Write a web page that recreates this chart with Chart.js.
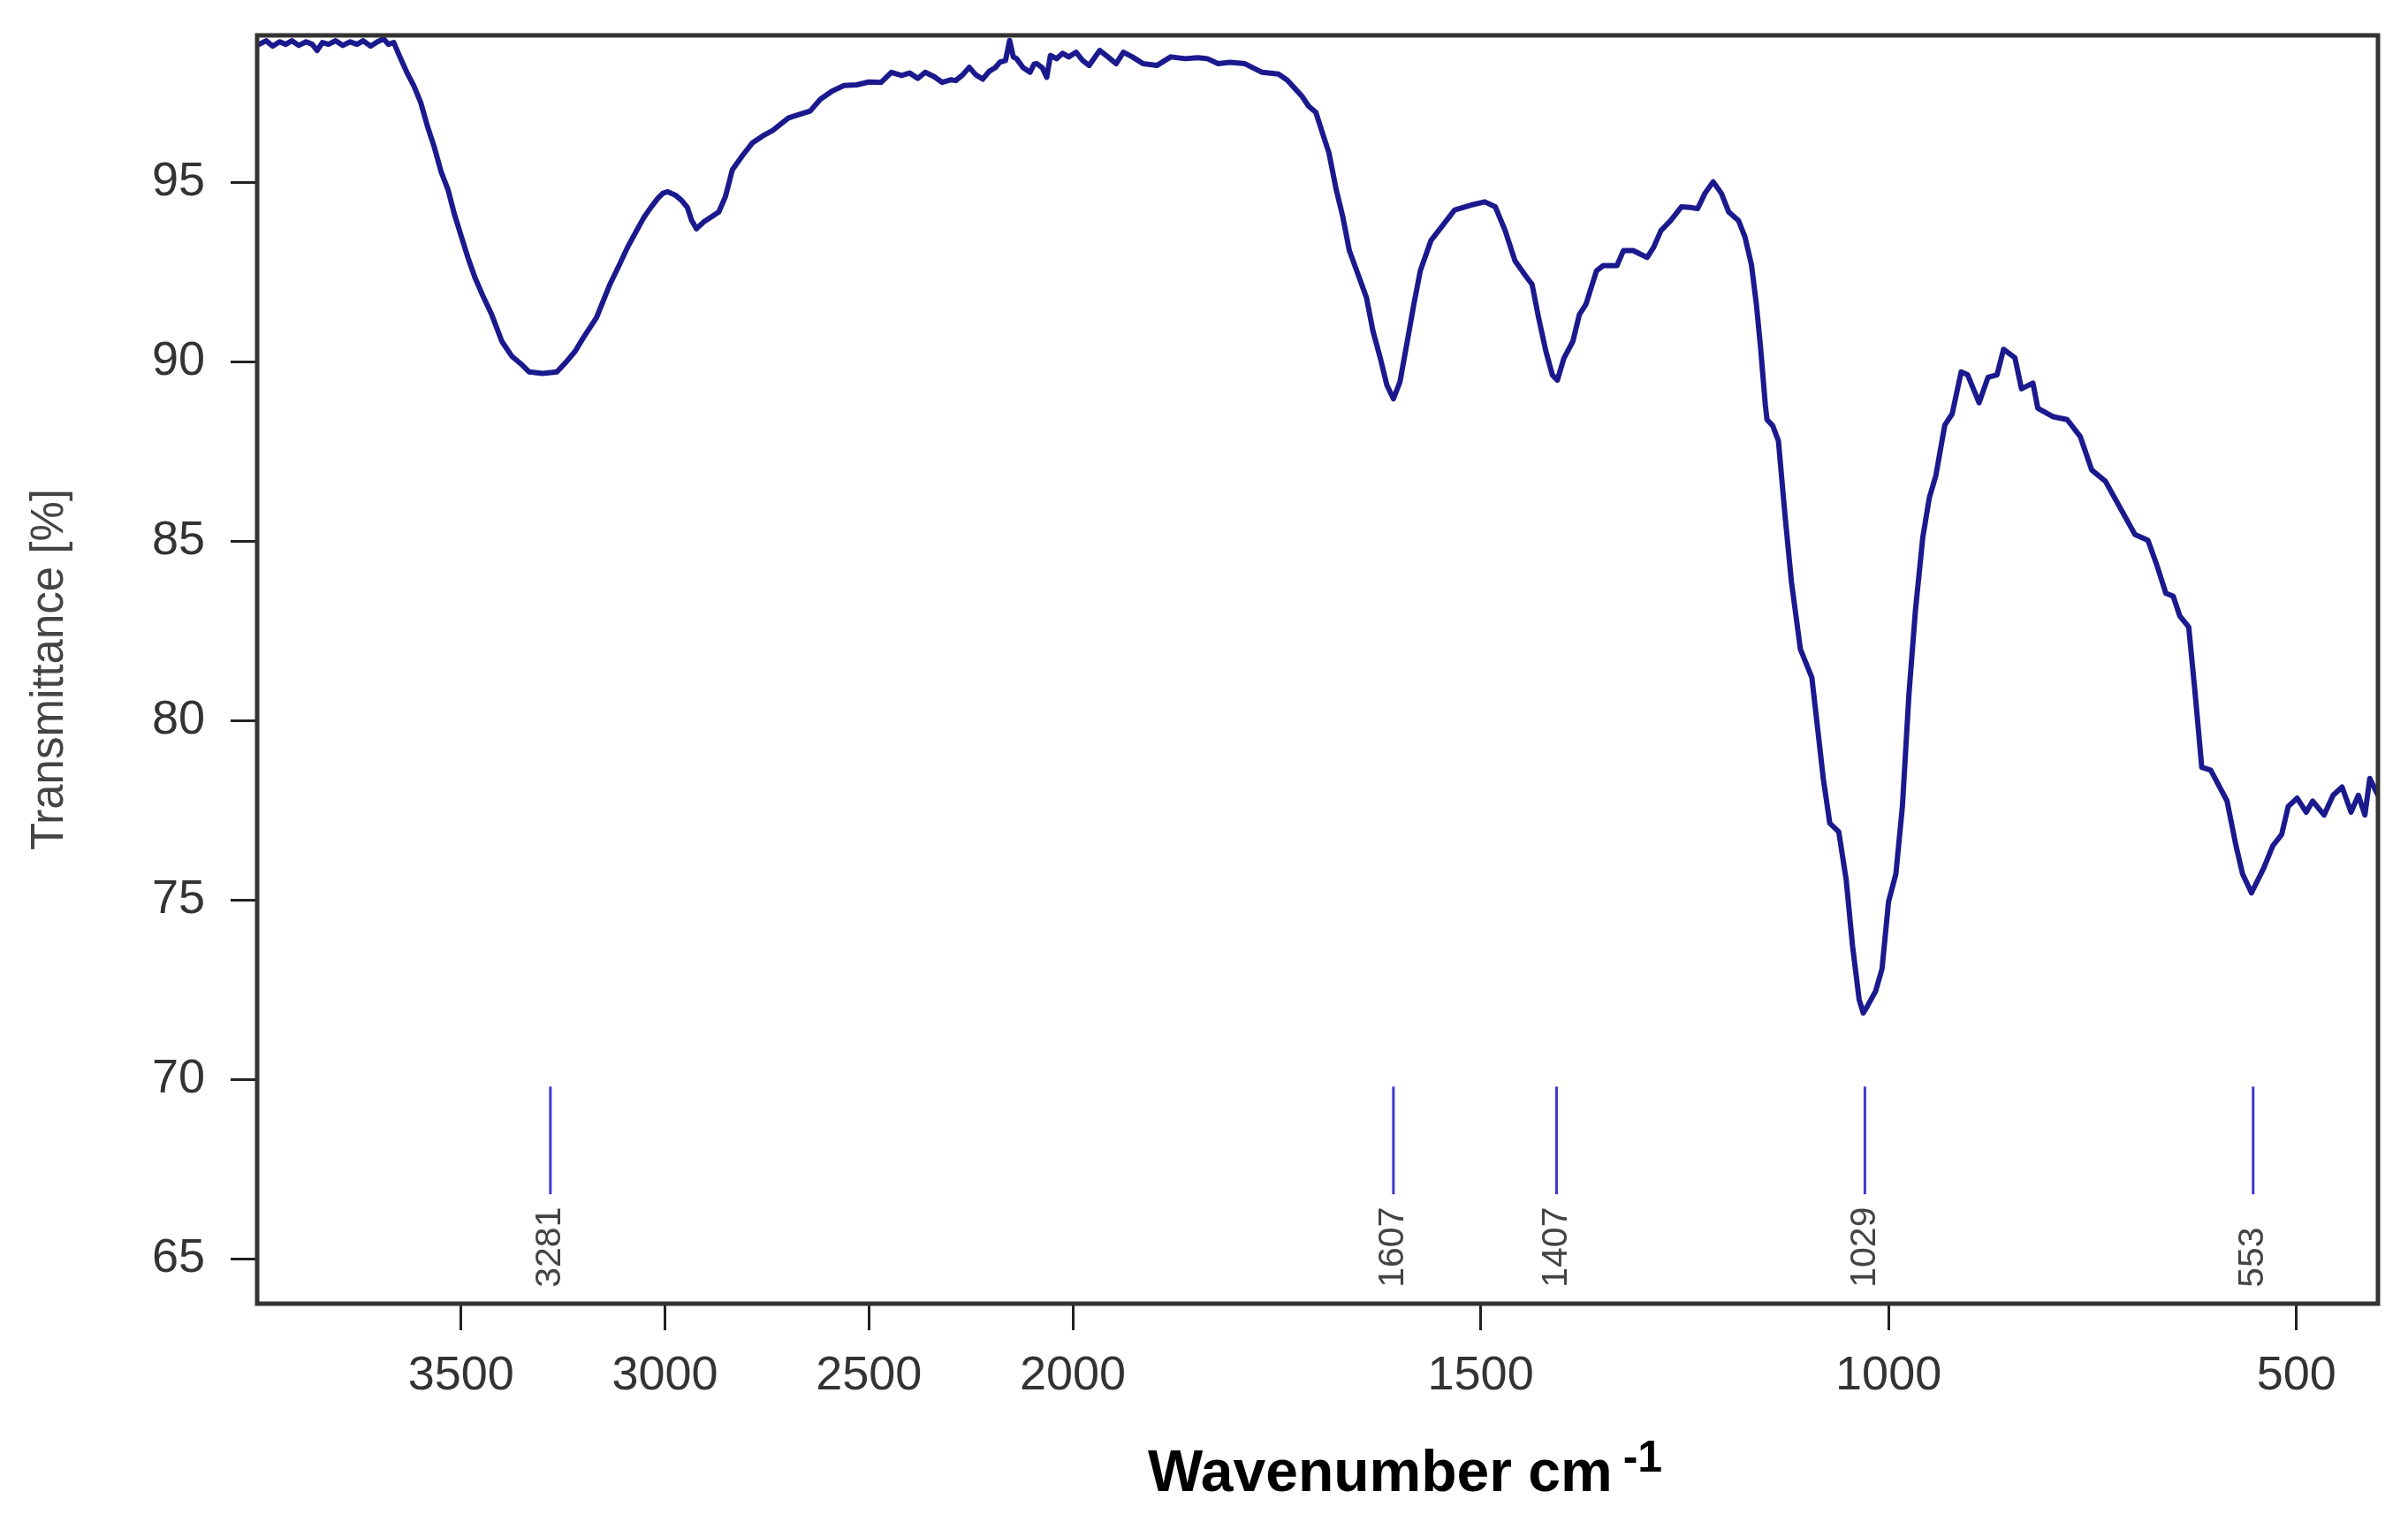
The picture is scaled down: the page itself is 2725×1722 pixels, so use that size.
<!DOCTYPE html>
<html><head><meta charset="utf-8">
<script src="https://cdn.jsdelivr.net/npm/chart.js@4.4.1/dist/chart.umd.min.js"></script>
<style>html,body{margin:0;padding:0;background:#fff;overflow:hidden}</style>
</head><body>
<canvas id="c" width="2725" height="1722"></canvas>
<script>
// Wavenumber (cm-1) of each traced point
const wavenumbers = [
 3995,3978,3962,3945,3930,3915,3898,3880,3865,3853,
 3840,3825,3808,3790,3772,3755,3740,3722,3705,3690,
 3678,3665,3650,3633,3616,3599,3582,3566,3549,3532,
 3516,3499,3483,3466,3445,3425,3400,3375,3350,3333,
 3300,3265,3242,3220,3201,3168,3135,3112,3092,3070,
 3051,3035,3018,3005,2993,2975,2960,2945,2935,2923,
 2905,2885,2868,2852,2844,2835,2810,2786,2760,2736,
 2719,2697,2670,2644,2619,2590,2561,2530,2500,2470,
 2445,2420,2400,2380,2362,2340,2320,2300,2287,2270,
 2254,2238,2221,2205,2190,2179,2165,2155,2146,2138,
 2122,2105,2095,2088,2075,2064,2055,2040,2025,2010,
 1996,1988,1980,1967,1957,1947,1938,1927,1914,1897,
 1880,1862,1847,1835,1822,1807,1789,1768,1748,1737,
 1727,1719,1711,1702,1694,1686,1677,1669,1661,1652,
 1640,1632,1623,1615,1607,1599,1590,1582,1574,1561,
 1545,1532,1512,1495,1482,1470,1458,1445,1437,1429,
 1420,1412,1406,1398,1387,1379,1371,1358,1350,1333,
 1325,1313,1296,1288,1279,1267,1254,1242,1234,1225,
 1215,1205,1196,1184,1176,1168,1162,1157,1151,1149,
 1142,1135,1127,1119,1108,1094,1080,1072,1061,1052,
 1044,1036,1031,1027,1016,1008,1000,991,983,975,
 967,958,950,942,931,922,911,903,889,878,
 867,859,845,837,823,817,798,781,765,751,
 734,715,698,682,671,660,651,643,632,624,
 616,605,585,574,566,555,552,540,529,518,
 510,499,488,480,466,455,444,433,424,416,
 410,400
];
// Transmittance (%) at each point
const transmittance = [
 98.85,98.95,98.8,98.92,98.85,98.95,98.82,98.92,98.85,98.68,
 98.9,98.85,98.95,98.82,98.92,98.85,98.95,98.8,98.92,99.0,
 98.85,98.9,98.5,98.07,97.7,97.23,96.55,96.0,95.3,94.8,
 94.1,93.48,92.9,92.35,91.8,91.32,90.57,90.15,89.91,89.72,
 89.68,89.72,90.0,90.3,90.66,91.23,92.16,92.7,93.19,93.65,
 94.04,94.3,94.55,94.7,94.74,94.65,94.51,94.3,93.95,93.71,
 93.9,94.05,94.18,94.6,94.95,95.35,95.75,96.1,96.3,96.45,
 96.6,96.8,96.9,96.99,97.32,97.55,97.7,97.72,97.8,97.79,
 98.07,97.98,98.05,97.9,98.07,97.95,97.79,97.86,97.84,98.0,
 98.21,98.0,97.88,98.1,98.2,98.35,98.4,98.96,98.5,98.45,
 98.2,98.07,98.3,98.31,98.2,97.93,98.54,98.45,98.6,98.5,
 98.63,98.4,98.26,98.68,98.5,98.31,98.63,98.5,98.31,98.26,
 98.5,98.45,98.48,98.45,98.31,98.35,98.31,98.07,98.02,97.85,
 97.6,97.4,97.13,96.95,96.38,95.82,94.79,94.04,93.1,92.54,
 91.79,90.85,90.1,89.35,88.97,89.44,90.57,91.6,92.54,93.38,
 93.85,94.23,94.37,94.46,94.32,93.66,92.82,92.4,92.16,91.23,
 90.29,89.63,89.49,90.1,90.57,91.32,91.6,92.54,92.68,92.68,
 93.1,93.1,92.91,93.19,93.66,93.94,94.32,94.3,94.27,94.7,
 95.02,94.7,94.18,93.94,93.48,92.7,91.6,90.43,88.79,88.39,
 88.22,87.8,85.74,83.86,81.99,81.2,78.39,77.14,76.9,75.58,
 73.7,72.22,71.85,72.0,72.45,73.08,74.95,75.73,77.61,80.73,
 83.08,85.11,86.21,86.83,88.24,88.55,89.72,89.64,88.86,89.57,
 89.64,90.35,90.11,89.25,89.41,88.71,88.47,88.39,87.92,86.99,
 86.67,85.89,85.19,85.03,84.33,83.55,83.47,82.92,82.61,80.73,
 78.7,78.62,77.76,76.51,75.73,75.2,75.34,75.89,76.51,76.83,
 77.61,77.84,77.45,77.76,77.37,77.92,78.15,77.45,77.92,77.37,
 78.39,77.92
];
const xTickLabels = [3500, 3000, 2500, 2000, 1500, 1000, 500];
const yTickLabels = [65, 70, 75, 80, 85, 90, 95];
const peakPositions = [3281, 1607, 1407, 1029, 553];
const peakLabels = ['3281', '1607', '1407', '1029', '553'];

// Axis is split at 2000 cm-1: the region above 2000 is compressed by a factor 2
function toAxis(w) { return w >= 2000 ? -(w - 2000) / 2 : 2000 - w; }
function fromAxis(u) { return u <= 0 ? 2000 - 2 * u : 2000 - u; }

const points = wavenumbers.map((w, i) => ({ x: toAxis(w), y: transmittance[i] }));

const FONT = '"Liberation Sans", Arial, sans-serif';

const framePlugin = {
  id: 'frame',
  afterDraw(chart) {
    const { ctx, chartArea: a } = chart;
    ctx.save();
    ctx.strokeStyle = '#333';
    ctx.lineWidth = 5;
    ctx.strokeRect(a.left, a.top, a.right - a.left, a.bottom - a.top);
    ctx.restore();
  }
};

const peakPlugin = {
  id: 'peaks',
  afterDatasetsDraw(chart) {
    const { ctx, scales: { x, y } } = chart;
    ctx.save();
    peakPositions.forEach((p, i) => {
      const px = x.getPixelForValue(toAxis(p));
      ctx.strokeStyle = '#3a3ad2';
      ctx.lineWidth = 3;
      ctx.beginPath();
      ctx.moveTo(px, y.getPixelForValue(69.8));
      ctx.lineTo(px, y.getPixelForValue(66.8));
      ctx.stroke();
      ctx.save();
      ctx.translate(px, y.getPixelForValue(64.2));
      ctx.rotate(-Math.PI / 2);
      ctx.font = '41px ' + FONT;
      ctx.fillStyle = '#444';
      ctx.textAlign = 'left';
      ctx.textBaseline = 'middle';
      ctx.fillText(peakLabels[i], 0, 0);
      ctx.restore();
    });
    ctx.restore();
  }
};

const titlePlugin = {
  id: 'titles',
  afterDraw(chart) {
    const { ctx, chartArea: a } = chart;
    ctx.save();
    // y title
    ctx.translate(57, (a.top + a.bottom) / 2);
    ctx.rotate(-Math.PI / 2);
    ctx.font = '51px ' + FONT;
    ctx.fillStyle = '#444';
    ctx.textAlign = 'center';
    ctx.textBaseline = 'middle';
    ctx.fillText('Transmittance [%]', 0, 0);
    ctx.restore();
    // x title
    ctx.save();
    ctx.fillStyle = '#000';
    ctx.textBaseline = 'alphabetic';
    ctx.textAlign = 'left';
    const main = 'Wavenumber cm';
    const sup = '-1';
    ctx.font = 'bold 66px ' + FONT;
    const wMain = ctx.measureText(main).width;
    ctx.font = 'bold 50px ' + FONT;
    const wSup = ctx.measureText(sup).width;
    const gap = 12;
    const total = wMain + gap + wSup;
    const cx = (a.left + a.right) / 2 + 99;
    const x0 = cx - total / 2;
    const base = a.bottom + 212;
    ctx.font = 'bold 66px ' + FONT;
    ctx.fillText(main, x0, base);
    ctx.font = 'bold 50px ' + FONT;
    ctx.fillText(sup, x0 + wMain + gap, base - 22);
    ctx.restore();
  }
};

new Chart(document.getElementById('c'), {
  type: 'line',
  data: {
    datasets: [{
      data: points,
      borderColor: '#1a1a8e',
      borderWidth: 6,
      borderJoinStyle: 'round',
      borderCapStyle: 'round',
      pointRadius: 0,
      tension: 0,
      fill: false
    }]
  },
  options: {
    responsive: false,
    devicePixelRatio: 1,
    animation: false,
    parsing: false,
    layout: { padding: { top: 40, right: 34, left: 0, bottom: 0 } },
    plugins: { legend: { display: false }, tooltip: { enabled: false }, title: { display: false } },
    scales: {
      x: {
        type: 'linear',
        min: toAxis(4000),
        max: toAxis(400),
        afterFit(scale) { scale.height = 247; scale.paddingLeft = 0; scale.paddingRight = 0; },
        afterBuildTicks(scale) { scale.ticks = xTickLabels.map(v => ({ value: toAxis(v) })); },
        border: { display: false },
        grid: { drawOnChartArea: false, drawTicks: true, tickLength: 30, tickColor: '#222', tickWidth: 3 },
        ticks: {
          maxRotation: 0, autoSkip: false, padding: 20,
          color: '#333', font: { family: FONT, size: 54 },
          callback: (v) => String(Math.round(fromAxis(v)))
        }
      },
      y: {
        type: 'linear',
        min: 63.75,
        max: 99.1,
        afterFit(scale) { scale.width = 291; scale.paddingTop = 0; scale.paddingBottom = 0; },
        afterBuildTicks(scale) { scale.ticks = yTickLabels.map(v => ({ value: v })); },
        border: { display: false },
        grid: { drawOnChartArea: false, drawTicks: true, tickLength: 30, tickColor: '#222', tickWidth: 3 },
        ticks: {
          padding: 29, autoSkip: false,
          color: '#333', font: { family: FONT, size: 54 },
          callback: (v) => String(v)
        }
      }
    }
  },
  plugins: [framePlugin, peakPlugin, titlePlugin]
});
</script>
</body></html>
